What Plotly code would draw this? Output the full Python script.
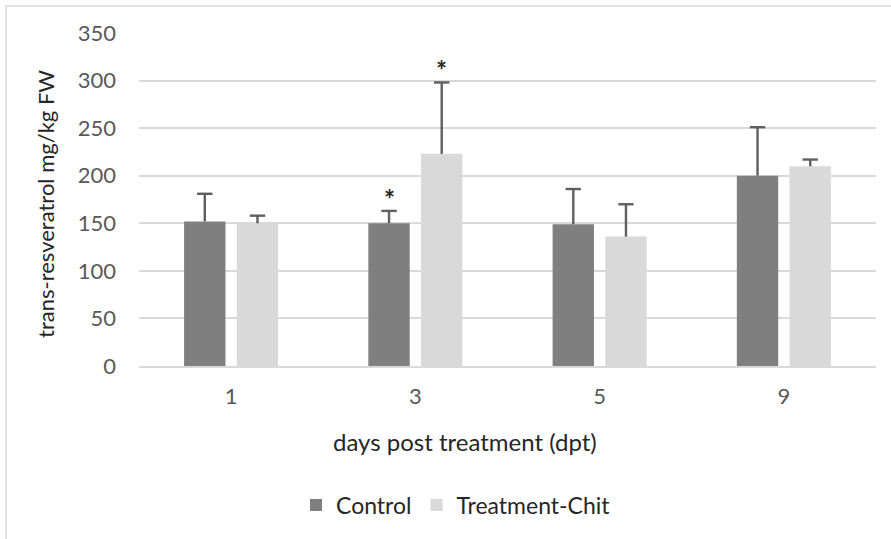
import plotly.graph_objects as go

categories = ["1", "3", "5", "9"]
control = [152, 150, 149, 200]
control_err = [29, 13, 37, 51]
treatment = [150, 223, 136, 210]
treatment_err = [8, 75, 34, 7]
control_star = [False, True, False, False]
treatment_star = [False, True, False, False]
y_ticks = [0, 50, 100, 150, 200, 250, 300, 350]

FONT = "Lato"
TXT = "#595959"
DARK = "#262626"
ERR = "#5f5f5f"
BARGAP = 0.428
W, H = 891, 539
ML, MR, MT, MB = 139, 15, 33, 173

fig = go.Figure()
series = [
    ("Control", control, control_err, "#7f7f7f", "c"),
    ("Treatment-Chit", treatment, treatment_err, "#d9d9d9", "t"),
]
for name, vals, errs, color, grp in series:
    fig.add_trace(go.Bar(
        name=name, x=categories, y=vals, offsetgroup=grp,
        marker=dict(color=color, line=dict(width=0)),
        error_y=dict(type="data", symmetric=False, array=errs,
                     arrayminus=[0] * len(vals), color=ERR, thickness=2.4, width=0),
    ))
for name, vals, errs, color, grp in series:
    tops = [v + e for v, e in zip(vals, errs)]
    fig.add_trace(go.Scatter(
        x=categories, y=tops, offsetgroup=grp, mode="markers",
        marker=dict(symbol="line-ew-open", size=11, color=ERR, line=dict(color=ERR, width=2.4)),
        showlegend=False, hoverinfo="skip", cliponaxis=False,
    ))

# significance stars, offset by half a bar slot (derived from the bar gap)
slot_px = (W - ML - MR) / len(categories) * (1 - BARGAP) / 2
annotations = []
for i in range(len(categories)):
    for flag, vals, errs, sign in ((control_star, control, control_err, -1),
                                   (treatment_star, treatment, treatment_err, 1)):
        if flag[i]:
            annotations.append(dict(
                x=i, y=vals[i] + errs[i], xref="x", yref="y", text="<b>*</b>",
                showarrow=False, xshift=sign * slot_px / 2, yshift=12,
                xanchor="center", yanchor="middle",
                font=dict(family=FONT, size=26, color=DARK)))

# outer chart border (top and left edges visible)
x_l = (6 - ML) / (W - ML - MR)
y_t = (H - MB - 6) / (H - MT - MB)
shapes = [
    dict(type="line", xref="paper", yref="paper", x0=x_l, x1=1.03, y0=y_t, y1=y_t,
         line=dict(color="#d9d9d9", width=1.5)),
    dict(type="line", xref="paper", yref="paper", x0=x_l, x1=x_l, y0=y_t, y1=-0.6,
         line=dict(color="#d9d9d9", width=1.5)),
]

annotations += [
    dict(text="days post treatment (dpt)", xref="paper", yref="paper",
         x=(465 - ML) / (W - ML - MR), y=(H - MB - 441) / (H - MT - MB), showarrow=False,
         xanchor="center", yanchor="middle", font=dict(family=FONT, size=24, color=DARK)),
    dict(text="trans-resveratrol mg/kg FW", xref="paper", yref="paper",
         x=(45 - ML) / (W - ML - MR), y=(H - MB - 204) / (H - MT - MB), showarrow=False,
         textangle=-90, xanchor="center", yanchor="middle",
         font=dict(family=FONT, size=22, color=DARK)),
]

fig.update_layout(
    width=W, height=H,
    margin=dict(l=ML, r=MR, t=MT, b=MB, autoexpand=False),
    paper_bgcolor="white", plot_bgcolor="white",
    barmode="group", bargap=BARGAP, bargroupgap=0.215,
    scattermode="group", scattergap=BARGAP,
    font=dict(family=FONT, size=22, color=TXT),
    xaxis=dict(
        type="category", showgrid=False, showline=True, linecolor="#d9d9d9", linewidth=1.5,
        ticks="", tickfont=dict(size=22, color=TXT), ticklabelstandoff=10, automargin=False,
    ),
    yaxis=dict(
        range=[0, 350], tickvals=y_ticks, showgrid=True, gridcolor="#d9d9d9", gridwidth=1.5,
        zeroline=False, showline=False, ticks="", ticklabelstandoff=22, automargin=False,
        tickfont=dict(size=22, color=TXT),
    ),
    showlegend=True,
    legend=dict(orientation="h", x=(456 - ML) / (W - ML - MR), xanchor="center",
                y=(H - MB - 505) / (H - MT - MB), yanchor="middle",
                font=dict(size=23, color=DARK), itemwidth=30, traceorder="normal"),
    annotations=annotations,
    shapes=shapes,
)

fig.write_html("out.html", config={"displayModeBar": False},
               post_script="document.body.style.margin='0';document.body.style.overflow='hidden';")
